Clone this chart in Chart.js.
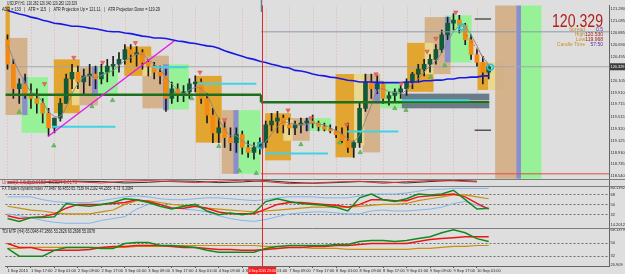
<!DOCTYPE html>
<html>
<head>
<meta charset="utf-8">
<title>USDJPY,H1</title>
<script src="https://cdn.jsdelivr.net/npm/chart.js@4.4.1/dist/chart.umd.min.js"></script>
<style>
  html, body { margin: 0; padding: 0; background: #dedede; overflow: hidden; }
  canvas { display: block; }
</style>
</head>
<body>
<canvas id="chart" width="625" height="274"></canvas>
<script>
// one label every 4 bars (bars are 2 hours wide)
const timeLabels = ["1 Sep 2015", "1 Sep 17:00", "2 Sep 01:00", "2 Sep 09:00", "2 Sep 17:00",
  "3 Sep 01:00", "3 Sep 09:00", "3 Sep 17:00", "4 Sep 01:00", "4 Sep 09:00", "4 Sep 17:00",
  "7 Sep 01:00", "7 Sep 09:00", "7 Sep 17:00", "8 Sep 01:00", "8 Sep 09:00", "8 Sep 17:00",
  "9 Sep 01:00", "9 Sep 09:00", "9 Sep 17:00", "10 Sep 01:00"];

const candleOpen = [120.77, 120.37, 119.97, 120.05, 119.89, 119.81, 119.73, 119.57, 119.33, 119.49,
  119.73, 120.13, 120.24, 120.08, 120.18, 120.21, 120.13, 120.24, 120.34, 120.37,
  120.45, 120.61, 120.53, 120.56, 120.40, 120.34, 120.24, 120.18, 119.81, 119.97,
  119.89, 119.92, 120.05, 120.08, 119.81, 119.54, 119.25, 119.33, 119.17, 119.09,
  119.22, 119.01, 118.93, 119.01, 119.09, 119.38, 119.44, 119.49, 119.38, 119.33,
  119.38, 119.41, 119.44, 119.41, 119.35, 119.31, 119.28, 119.22, 119.12, 119.01,
  119.09, 119.65, 120.08, 119.97, 120.05, 119.81, 119.86, 119.92, 119.97, 120.08,
  120.21, 120.29, 120.37, 120.45, 120.61, 120.85, 121.04, 121.09, 121.01, 120.77,
  120.53, 120.40, 120.24];
const candleHigh = [120.85, 120.45, 120.13, 120.21, 120.05, 119.97, 119.81, 119.65, 119.49, 119.81,
  120.21, 120.37, 120.34, 120.29, 120.37, 120.34, 120.37, 120.45, 120.50, 120.56,
  120.69, 120.69, 120.66, 120.61, 120.45, 120.40, 120.34, 120.29, 120.08, 120.05,
  120.02, 120.13, 120.18, 120.13, 119.89, 119.65, 119.49, 119.44, 119.33, 119.33,
  119.28, 119.12, 119.09, 119.17, 119.44, 119.57, 119.60, 119.54, 119.49, 119.44,
  119.49, 119.49, 119.54, 119.44, 119.41, 119.38, 119.35, 119.33, 119.41, 119.12,
  119.73, 120.21, 120.21, 120.18, 120.08, 119.92, 119.97, 120.02, 120.13, 120.24,
  120.37, 120.45, 120.53, 120.69, 120.93, 121.14, 121.20, 121.17, 121.04, 120.85,
  120.61, 120.50, 120.37];
const candleLow = [120.29, 119.81, 119.73, 119.81, 119.65, 119.57, 119.41, 119.20, 119.25, 119.44,
  119.73, 119.97, 119.97, 119.89, 120.02, 119.97, 120.05, 120.08, 120.18, 120.24,
  120.37, 120.40, 120.34, 120.29, 120.18, 120.13, 120.05, 119.60, 119.73, 119.76,
  119.76, 119.81, 119.92, 119.73, 119.41, 119.09, 119.09, 119.01, 118.96, 118.93,
  118.90, 118.85, 118.82, 118.90, 119.01, 119.28, 119.25, 119.25, 119.22, 119.22,
  119.25, 119.28, 119.33, 119.28, 119.28, 119.25, 119.17, 119.09, 118.93, 118.85,
  119.01, 119.60, 119.81, 119.89, 119.73, 119.70, 119.76, 119.81, 119.86, 119.97,
  120.08, 120.18, 120.24, 120.37, 120.56, 120.77, 120.93, 120.88, 120.69, 120.45,
  120.34, 120.05, 120.13];
const candleClose = [120.37, 119.97, 120.05, 119.89, 119.81, 119.73, 119.57, 119.33, 119.49, 119.73,
  120.13, 120.24, 120.08, 120.18, 120.21, 120.13, 120.24, 120.34, 120.37, 120.45,
  120.61, 120.53, 120.56, 120.40, 120.34, 120.24, 120.18, 119.81, 119.97, 119.89,
  119.92, 120.05, 120.08, 119.81, 119.54, 119.25, 119.33, 119.17, 119.09, 119.22,
  119.01, 118.93, 119.01, 119.09, 119.38, 119.44, 119.49, 119.38, 119.33, 119.38,
  119.41, 119.44, 119.41, 119.35, 119.31, 119.28, 119.22, 119.12, 119.01, 119.09,
  119.65, 120.08, 119.97, 120.05, 119.81, 119.86, 119.92, 119.97, 120.08, 120.21,
  120.29, 120.37, 120.45, 120.61, 120.85, 121.04, 121.09, 121.01, 120.77, 120.53,
  120.40, 120.24, 120.329];

const fastMa = [120.69, 120.45, 120.24, 120.07, 119.92, 119.87, 119.75, 119.60, 119.52, 119.52,
  119.67, 119.89, 120.05, 120.16, 120.18, 120.15, 120.19, 120.23, 120.27, 120.35,
  120.43, 120.48, 120.53, 120.53, 120.45, 120.37, 120.29, 120.15, 120.05, 119.95,
  119.89, 119.95, 119.99, 119.97, 119.87, 119.67, 119.47, 119.31, 119.20, 119.20,
  119.12, 119.06, 119.04, 119.01, 119.11, 119.23, 119.35, 119.43, 119.41, 119.39,
  119.38, 119.39, 119.41, 119.39, 119.38, 119.33, 119.28, 119.23, 119.15, 119.11,
  119.22, 119.46, 119.70, 119.94, 119.97, 119.92, 119.91, 119.89, 119.95, 120.05,
  120.13, 120.24, 120.34, 120.43, 120.56, 120.74, 120.90, 120.99, 120.98, 120.85,
  120.67, 120.48, 120.37];
const slowMa = [121.25, 121.22, 121.19, 121.17, 121.14, 121.12, 121.09, 121.07, 121.04, 121.03,
  121.01, 120.99, 120.99, 120.98, 120.96, 120.95, 120.93, 120.91, 120.90, 120.90,
  120.88, 120.87, 120.85, 120.83, 120.82, 120.80, 120.80, 120.79, 120.77, 120.75,
  120.74, 120.72, 120.71, 120.69, 120.67, 120.66, 120.63, 120.59, 120.56, 120.53,
  120.50, 120.47, 120.45, 120.42, 120.40, 120.37, 120.35, 120.32, 120.31, 120.27,
  120.26, 120.24, 120.21, 120.19, 120.18, 120.16, 120.15, 120.13, 120.11, 120.10,
  120.08, 120.08, 120.08, 120.07, 120.07, 120.07, 120.07, 120.07, 120.08, 120.08,
  120.08, 120.10, 120.10, 120.11, 120.11, 120.13, 120.13, 120.15, 120.15, 120.16,
  120.16, 120.18, 120.18];

// arrow and ring markers: bar position and price
const downSlots = [6.3, 11.3, 16.2, 21.8, 32.8, 37.0, 47.8, 51.7, 57.8, 62.8, 67.1, 71.5, 73.0, 76.4];
const downPrices = [120.05, 120.48, 120.40, 120.72, 120.24, 119.46, 119.62, 119.49, 119.38, 120.21, 120.05, 120.58, 120.79, 121.22];
const upSlots = [2.0, 7.9, 14.4, 17.9, 28.5, 31.4, 36.0, 39.5, 42.4, 50.0, 56.6, 60.1, 66.0, 67.9, 72.1, 74.5];
const upPrices = [119.59, 119.04, 119.68, 119.78, 119.89, 119.81, 119.03, 118.63, 118.59, 119.06, 119.09, 118.93, 119.65, 119.62, 120.16, 120.35];
const ringSlots = [43.2, 77.4, 82.3];
const ringPrices = [119.04, 120.98, 120.32];

// zones: kind, first bar, last bar, top price, bottom price
const zones = [
  ["gold", -0.4, 0.4, 121.33, 120.61], ["tan", -0.4, 3.4, 120.80, 119.54],
  ["green", 2.4, 6.9, 120.16, 119.25], ["purple", 2.5, 3.4, 120.16, 119.54],
  ["gold", 7.9, 12.3, 120.45, 119.57], ["pale", 11.0, 12.3, 120.32, 119.70],
  ["tan", 12.3, 15.4, 120.32, 119.70], ["purple", 14.4, 15.4, 120.34, 119.89],
  ["green", 15.4, 18.8, 120.34, 119.89], ["gold", 19.9, 24.5, 120.66, 120.18],
  ["tan", 23.0, 27.5, 120.51, 119.65], ["pale", 23.0, 24.5, 120.37, 120.18],
  ["purple", 26.5, 27.5, 120.37, 119.62], ["green", 27.5, 30.9, 120.37, 119.63],
  ["gold", 32.1, 36.5, 120.18, 119.09], ["tan", 36.5, 39.4, 119.62, 118.58],
  ["purple", 38.5, 39.4, 119.62, 118.58], ["green", 39.4, 43.1, 119.62, 118.58],
  ["gold", 43.9, 48.3, 119.57, 118.80], ["tan", 48.3, 51.5, 119.49, 119.12],
  ["pale", 47.0, 48.6, 119.46, 119.12], ["purple", 50.7, 51.5, 119.49, 119.28],
  ["green", 51.5, 55.1, 119.49, 119.28], ["gold", 55.9, 59.1, 120.21, 118.85],
  ["tan", 60.5, 63.5, 120.21, 118.93], ["pale", 59.1, 60.8, 120.21, 119.04],
  ["purple", 62.5, 63.9, 120.10, 119.73], ["green", 63.5, 67.2, 120.08, 119.65],
  ["gold", 68.1, 72.6, 120.72, 119.92], ["tan", 71.1, 75.5, 121.14, 120.21],
  ["pale", 71.1, 72.6, 120.72, 120.21], ["green", 74.5, 79.1, 121.17, 120.40],
  ["purple", 74.5, 75.5, 121.14, 120.40], ["gold", 80.1, 81.9, 120.40, 119.95],
  ["pale", 81.9, 84.6, 120.40, 119.95], ["slate", 67.2, 82.1, 119.89, 119.78],
  ["slate", 67.2, 82.1, 119.73, 119.65], ["tan", 83.1, 86.7, 122, 118],
  ["purple", 86.7, 87.5, 122, 118], ["green", 87.5, 91.0, 122, 118]
];

// lines on the price pane: kind, from bar, to bar, price from, price to
const levels = [
  ["bid", -0.4, 103, 120.329, 120.329],
  ["grey", 43.2, 103, 120.90, 120.90],
  ["red", 43.2, 103, 118.58, 118.58],
  ["support", -0.4, 43.2, 119.87, 119.87],
  ["support", 43.2, 43.2, 119.87, 119.75],
  ["support", 43.2, 82.1, 119.75, 119.75],
  ["cyan", 7.6, 18.4, 119.35, 119.35],
  ["cyan", 24.7, 30.6, 120.32, 120.32],
  ["cyan", 32.3, 42.4, 120.05, 120.05],
  ["cyan", 43.9, 54.6, 118.91, 118.91],
  ["cyan", 57.9, 66.6, 119.27, 119.27],
  ["cyan", 67.2, 78.7, 119.78, 119.78],
  ["trend", 6.9, 28.4, 119.19, 120.75],
  ["atr", 79.6, 82.4, 121.11, 121.11],
  ["atr", 79.6, 82.4, 119.29, 119.29],
  ["dots", 78.2, 81.6, 120.85, 120.42]
];
const crossSlot = 43.4;

const mainTicks = [121.280, 121.085, 120.885, 120.690, 120.495, 120.105, 119.910,
  119.715, 119.515, 119.320, 119.125, 118.930, 118.735, 118.540];
const lastPrice = 120.329;

// Unveil pane, one value every 4 bars
const unveilRed = [0.2, -0.3, 0.4, 0.1, -0.2, 0.3, 0.5, 0.2, -0.1, 0.3, 0.6, 0.2, -0.4, -0.2, 0.1, 0.3, -0.3, 0.2, 0.5, 0.4, 0.1];
const unveilDark = [-0.2, 0.1, -0.1, 0.3, 0.2, -0.2, 0.0, 0.4, 0.3, -0.1, 0.1, 0.5, 0.0, -0.3, -0.1, 0.2, 0.1, -0.2, 0.2, 0.6, 0.3];

// dynamic index pane, one value every 2 bars
const tdiGreen = [25.4, 20.3, 27.1, 27.1, 28.8, 52.7, 49.3, 47.6, 51.0, 54.4,
  61.2, 59.5, 54.4, 47.6, 42.5, 47.6, 51.0, 39.1, 32.2, 35.6,
  32.2, 35.6, 56.1, 61.2, 56.1, 52.7, 51.0, 49.3, 45.9, 39.1,
  62.9, 69.8, 59.5, 56.1, 61.2, 69.8, 68.1, 69.8, 76.6, 59.5, 42.5, 44.2];
const tdiRed = [30.5, 25.4, 27.1, 28.8, 33.9, 44.2, 51.0, 51.0, 51.0, 52.7,
  54.4, 59.5, 56.1, 51.0, 44.2, 44.2, 47.6, 44.2, 37.4, 33.9,
  33.9, 33.9, 42.5, 51.0, 54.4, 54.4, 52.7, 51.0, 49.3, 45.9,
  51.0, 59.5, 59.5, 57.8, 57.8, 64.6, 66.4, 68.1, 69.8, 64.6, 52.7, 42.5];
const tdiBase = [47.6, 44.2, 40.8, 39.1, 35.6, 33.9, 33.9, 33.9, 37.4, 40.8,
  51.0, 57.8, 57.8, 54.4, 51.0, 49.3, 47.6, 44.2, 42.5, 40.8,
  39.1, 37.4, 39.1, 40.8, 42.5, 44.2, 45.9, 45.9, 45.9, 45.9,
  47.6, 49.3, 51.0, 51.0, 52.7, 57.8, 61.2, 64.6, 68.1, 68.1, 64.6, 61.2];
const tdiUpper = [64.6, 64.6, 64.6, 59.5, 56.1, 54.4, 54.4, 54.4, 57.8, 61.2,
  64.6, 66.4, 64.6, 61.2, 59.5, 59.5, 61.2, 62.9, 62.9, 61.2,
  59.5, 57.8, 59.5, 62.9, 64.6, 64.6, 64.6, 62.9, 62.9, 62.9,
  66.4, 69.8, 69.8, 69.8, 71.5, 74.9, 78.3, 78.3, 80.0, 80.0, 80.0, 80.0];
const tdiLower = [33.9, 30.5, 27.1, 22.0, 18.6, 16.9, 16.9, 16.9, 22.0, 25.4,
  28.8, 42.5, 51.0, 51.0, 45.9, 42.5, 40.8, 37.4, 30.5, 25.4,
  22.0, 20.3, 23.7, 28.8, 33.9, 35.6, 37.4, 37.4, 35.6, 33.9,
  33.9, 39.1, 40.8, 39.1, 39.1, 40.8, 42.5, 45.9, 52.7, 56.1, 49.3, 44.2];
const tdiLevels = [80.1392, 68, 50, 32, 14.2012];

// TDI MTF (H4) pane, one value every 2 bars
const mtfGreen = [43.0, 32.2, 32.2, 32.2, 40.3, 44.3, 44.3, 44.3, 43.0, 43.0,
  49.7, 51.1, 51.1, 47.0, 47.0, 45.7, 44.3, 40.3, 37.6, 37.6,
  37.6, 37.6, 43.0, 45.7, 47.0, 47.0, 47.0, 47.0, 48.4, 48.4,
  52.4, 53.8, 53.8, 52.4, 53.8, 56.5, 59.2, 64.6, 68.6, 64.6, 56.5, 52.4];
const mtfRed = [49.7, 44.3, 44.3, 40.3, 40.3, 40.3, 40.3, 41.6, 44.3, 45.7,
  45.7, 47.0, 47.0, 47.0, 45.7, 44.3, 44.3, 43.0, 41.6, 41.6,
  40.3, 40.3, 41.6, 43.0, 44.3, 44.3, 45.7, 45.7, 47.0, 47.0,
  48.4, 49.7, 49.7, 49.7, 49.7, 52.4, 55.1, 56.5, 57.8, 59.2, 59.2, 59.2];
const mtfBase = [43.0, 43.0, 44.3, 44.3, 44.3, 44.3, 44.3, 44.3, 44.3, 44.3,
  44.3, 45.7, 45.7, 45.7, 47.0, 47.0, 47.0, 47.0, 47.0, 47.0,
  47.0, 47.0, 45.7, 45.7, 44.3, 44.3, 43.0, 43.0, 43.0, 41.6,
  41.6, 41.6, 41.6, 41.6, 41.6, 43.0, 43.0, 44.3, 45.7, 45.7, 47.0, 47.0];
const mtfLevels = [68.1379, 50, 32, 20.909];

const headerLine = "USDJPY,H1  120.282 120.340 120.282 120.329";
const atrLine = "ADR = 133   |   ATR = 115   |   ATR Projection Up = 121.11   |   ATR Projection Down = 119.29";
const unveilTitle = "Unveil(3,3,5,3) 0.0152 -0.0024 0.0176";
const tdiTitle = "FX Traders dynamic index 77.9487 66.4853 65.7539 64.2192 44.2383  4.73  6.2084";
const mtfTitle = "TDI MTF (H4) 65.0948 47.2866 53.2626 60.2698 55.0978";
const infoRows = [["Spread", "0.5"], ["High", "120.530"], ["Low", "119.968"], ["Candle Time", "57:50"]];

const FONT = '"Liberation Sans Narrow", "Liberation Sans", Arial, sans-serif';
Chart.defaults.font.family = FONT;
Chart.defaults.font.size = 4;
Chart.defaults.color = "#2b2b2b";

const zoneColors = {
  gold: "rgba(225,160,34,0.93)", tan: "rgba(210,175,135,0.95)", pale: "rgba(233,215,142,0.96)",
  purple: "#8b8dcc", green: "#97f297", slate: "#6b7b8a"
};
const levelStyles = {
  bid: { color: "#a6a6a6", width: 1 },
  grey: { color: "#8d99ab", width: 1 },
  red: { color: "#e34b4b", width: 1 },
  support: { color: "#1f6f1f", width: 2.5 },
  cyan: { color: "#3fd3e3", width: 2 },
  trend: { color: "#e31ee3", width: 1.5 },
  atr: { color: "#555555", width: 1.5 },
  dots: { color: "#e05050", width: 1, dash: [2, 2] }
};

const pts = (arr, step) => arr.map((v, i) => ({ x: i * step, y: v }));
const bars = candleClose.map((_, i) => i);

function drawLevels(ctx, x, y, onlyBid) {
  levels.forEach(([kind, s0, s1, p0, p1]) => {
    if ((kind === "bid") !== onlyBid) return;
    const st = levelStyles[kind];
    ctx.strokeStyle = st.color;
    ctx.lineWidth = st.width;
    ctx.setLineDash(st.dash || []);
    ctx.beginPath();
    ctx.moveTo(x.getPixelForValue(s0), y.getPixelForValue(p0));
    ctx.lineTo(x.getPixelForValue(s1), y.getPixelForValue(p1));
    ctx.stroke();
  });
  ctx.setLineDash([]);
}

function clipPane(ctx, area, scale) {
  ctx.beginPath();
  ctx.rect(area.left, scale.top, area.right - area.left, scale.bottom - scale.top);
  ctx.clip();
}

const overlay = {
  id: "overlay",
  beforeDraw(chart) {
    const { ctx, width, height } = chart;
    ctx.save();
    ctx.fillStyle = "#dedede";
    ctx.fillRect(0, 0, width, height);
    ctx.restore();
  },
  beforeDatasetsDraw(chart) {
    const { ctx, chartArea: area, scales: { x, y } } = chart;
    ctx.save();
    clipPane(ctx, area, y);
    // period separators
    ctx.strokeStyle = "rgba(232,150,128,0.6)";
    ctx.lineWidth = 1;
    ctx.setLineDash([1, 2]);
    timeLabels.forEach((_, k) => {
      const px = Math.round(x.getPixelForValue(k * 4)) + 0.5;
      ctx.beginPath();
      ctx.moveTo(px, y.top);
      ctx.lineTo(px, y.bottom);
      ctx.stroke();
    });
    ctx.setLineDash([]);
    zones.forEach(([kind, s0, s1, hi, lo]) => {
      const x0 = x.getPixelForValue(s0), x1 = x.getPixelForValue(s1);
      const y0 = y.getPixelForValue(hi), y1 = y.getPixelForValue(lo);
      ctx.fillStyle = zoneColors[kind];
      ctx.fillRect(x0, y0, x1 - x0, y1 - y0);
    });
    drawLevels(ctx, x, y, true);
    ctx.restore();
  },
  afterDatasetsDraw(chart) {
    const { ctx, chartArea: area, scales: { x, y, yA, yB, yC } } = chart;
    ctx.save();
    clipPane(ctx, area, y);
    drawLevels(ctx, x, y, false);
    ctx.restore();

    ctx.save();
    // pane separators
    ctx.strokeStyle = "#7d7d7d";
    ctx.lineWidth = 1;
    [y.bottom, yA.bottom, yB.bottom].forEach(b => {
      const py = Math.round(b) + 0.5;
      ctx.beginPath();
      ctx.moveTo(0, py);
      ctx.lineTo(chart.width, py);
      ctx.stroke();
    });
    // crosshair
    const cx = Math.round(x.getPixelForValue(crossSlot)) + 0.5;
    ctx.strokeStyle = "#e52626";
    ctx.beginPath();
    ctx.moveTo(cx, area.top);
    ctx.lineTo(cx, area.bottom);
    ctx.stroke();
    ctx.strokeStyle = "#6c7c90";
    ctx.lineWidth = 1.5;
    ctx.beginPath();
    ctx.moveTo(cx - 1, 0);
    ctx.lineTo(cx - 1, 12);
    ctx.stroke();

    // titles
    ctx.textBaseline = "middle";
    ctx.textAlign = "left";
    ctx.font = "5px " + FONT;
    ctx.fillStyle = "#1a1a1a";
    ctx.fillText(headerLine, 7, 4, 70);
    ctx.fillText(atrLine, 2, 9.5, 158);
    ctx.fillText(tdiTitle, 2, yB.top + 2.5, 131);
    ctx.fillText(mtfTitle, 2, yC.top + 3.5, 93);
    ctx.fillStyle = "#c03030";
    ctx.fillText(unveilTitle, 2, yA.top + 3.5, 75);

    // info block
    ctx.textAlign = "right";
    ctx.textBaseline = "alphabetic";
    ctx.font = "19px " + FONT;
    const big = lastPrice.toFixed(3);
    const w = ctx.measureText(big).width;
    ctx.save();
    ctx.translate(603, 27);
    ctx.scale(51 / w, 1);
    ctx.fillStyle = "#b31d1d";
    ctx.fillText(big, 0, 0);
    ctx.restore();
    ctx.textBaseline = "middle";
    ctx.font = "5px " + FONT;
    const valueColors = ["#5a2aa0", "#a32020", "#a32020", "#5a2aa0"];
    infoRows.forEach(([label, value], k) => {
      const py = 29.5 + k * 5.2;
      ctx.fillStyle = "#c4912c";
      ctx.fillText(label, 585, py);
      ctx.fillStyle = valueColors[k];
      ctx.fillText(value, 603, py);
    });
    ctx.restore();
  },
  afterDraw(chart) {
    const { ctx, chartArea: area, scales: { x, y } } = chart;
    ctx.save();
    // current price tag
    const py = y.getPixelForValue(lastPrice);
    ctx.fillStyle = "#3c3c3c";
    ctx.fillRect(area.right + 1, py - 3.5, 15, 7);
    ctx.fillStyle = "#ffffff";
    ctx.font = "4px " + FONT;
    ctx.textAlign = "left";
    ctx.textBaseline = "middle";
    ctx.fillText(lastPrice.toFixed(3), area.right + 1.5, py, 14);
    // crosshair time tag
    const cx = x.getPixelForValue(crossSlot);
    ctx.fillStyle = "#ff1c1c";
    ctx.fillRect(cx - 14, area.bottom + 1, 28, 7);
    ctx.fillStyle = "#ffffff";
    ctx.textAlign = "center";
    ctx.fillText("4 Sep 2015 23:00", cx, area.bottom + 4.5, 27);
    ctx.restore();
  }
};

const levelGrid = lv => c => (c.tick && lv.includes(c.tick.value) ? "#6d6d6d" : "rgba(0,0,0,0)");
const fixWidth = s => { s.width = 16; };

const ctx = document.getElementById("chart").getContext("2d");
const lineSet = (data, axis, color, width, order) => ({
  type: "line", data, yAxisID: axis, borderColor: color, borderWidth: width,
  pointRadius: 0, fill: false, order
});

new Chart(ctx, {
  type: "bar",
  data: {
    datasets: [
      {
        type: "bar", data: bars.map(i => ({ x: i, y: [candleLow[i], candleHigh[i]] })),
        yAxisID: "y", backgroundColor: "#1b1b1b", barThickness: 1, grouped: false, order: 6
      },
      {
        type: "bar", data: bars.map(i => ({ x: i, y: [candleOpen[i], candleClose[i]] })),
        yAxisID: "y", backgroundColor: bars.map(i => (candleClose[i] >= candleOpen[i] ? "#14583a" : "#f3890f")),
        barThickness: 4, minBarLength: 1, grouped: false, order: 5
      },
      { ...lineSet(pts(fastMa, 1), "y", "#8a8a8a", 1, 4), tension: 0.3 },
      lineSet(pts(slowMa, 1), "y", "#1818e6", 1.6, 3),
      {
        type: "line", showLine: false, yAxisID: "y", order: 1,
        data: downSlots.map((s, k) => ({ x: s, y: downPrices[k] })),
        pointStyle: "triangle", rotation: 180, pointRadius: 2.5,
        pointBackgroundColor: "#f26b5b", pointBorderColor: "#d04040", pointBorderWidth: 0.5
      },
      {
        type: "line", showLine: false, yAxisID: "y", order: 1,
        data: upSlots.map((s, k) => ({ x: s, y: upPrices[k] })),
        pointStyle: "triangle", pointRadius: 2.5,
        pointBackgroundColor: "#63c463", pointBorderColor: "#3c9a3c", pointBorderWidth: 0.5
      },
      {
        type: "line", showLine: false, yAxisID: "y", order: 1,
        data: ringSlots.map((s, k) => ({ x: s, y: ringPrices[k] })),
        pointStyle: "circle", pointRadius: 3,
        pointBackgroundColor: "rgba(0,0,0,0)", pointBorderColor: "#22c6e6", pointBorderWidth: 1.5
      },
      lineSet(pts(unveilDark, 4), "yA", "#333333", 1, 2),
      lineSet(pts(unveilRed, 4), "yA", "#e03030", 1, 1),
      lineSet(pts(tdiUpper, 2), "yB", "#80b6ee", 1, 2),
      lineSet(pts(tdiLower, 2), "yB", "#80b6ee", 1, 2),
      lineSet(pts(tdiBase, 2), "yB", "#c8900f", 1.2, 2),
      lineSet(pts(tdiRed, 2), "yB", "#f01515", 1.5, 1),
      lineSet(pts(tdiGreen, 2), "yB", "#14881e", 1.5, 0),
      lineSet(pts(mtfBase, 2), "yC", "#c8900f", 1.2, 2),
      lineSet(pts(mtfRed, 2), "yC", "#f01515", 1.5, 1),
      lineSet(pts(mtfGreen, 2), "yC", "#14881e", 1.5, 0)
    ]
  },
  options: {
    responsive: false,
    devicePixelRatio: 1,
    animation: false,
    events: [],
    layout: { padding: 0 },
    plugins: { legend: { display: false }, tooltip: { enabled: false } },
    scales: {
      x: {
        type: "linear", position: "bottom", min: -0.34, max: 102.5, offset: false,
        afterFit: s => { s.height = 8; },
        afterBuildTicks: s => { s.ticks = timeLabels.map((_, k) => ({ value: k * 4 })); },
        ticks: {
          callback: (v, i) => timeLabels[i], align: "start", autoSkip: false,
          maxRotation: 0, minRotation: 0, padding: 0.5
        },
        grid: { offset: false, drawOnChartArea: false, tickLength: 2, tickColor: "#555" },
        border: { color: "#666" }
      },
      y: {
        type: "linear", position: "right", stack: "pane", stackWeight: 177,
        min: 118.498, max: 121.33, beginAtZero: false, afterFit: fixWidth,
        afterBuildTicks: s => { s.ticks = mainTicks.map(v => ({ value: v })); },
        ticks: { callback: v => v.toFixed(3), padding: 0.5, autoSkip: false },
        grid: { drawOnChartArea: false, tickLength: 1, tickColor: "#555" },
        border: { color: "#666" }
      },
      yA: {
        type: "linear", position: "right", stack: "pane", stackWeight: 7,
        min: -1, max: 1, beginAtZero: false, afterFit: fixWidth,
        afterBuildTicks: s => { s.ticks = []; },
        ticks: { display: false },
        grid: { display: false },
        border: { color: "#666" }
      },
      yB: {
        type: "linear", position: "right", stack: "pane", stackWeight: 43,
        min: 8.7, max: 84.8, beginAtZero: false, afterFit: fixWidth,
        afterBuildTicks: s => { s.ticks = tdiLevels.map(v => ({ value: v })); },
        ticks: { callback: v => String(v), padding: 0.5, autoSkip: false },
        grid: { color: levelGrid([68, 50, 32]), tickColor: "#555", tickLength: 1 },
        border: { color: "#666", dash: [2, 2] }
      },
      yC: {
        type: "linear", position: "right", stack: "pane", stackWeight: 39,
        min: 18.7, max: 71.4, beginAtZero: false, afterFit: fixWidth,
        afterBuildTicks: s => { s.ticks = mtfLevels.map(v => ({ value: v })); },
        ticks: { callback: v => String(v), padding: 0.5, autoSkip: false },
        grid: { color: levelGrid([50, 32]), tickColor: "#555", tickLength: 1 },
        border: { color: "#666", dash: [2, 2] }
      }
    }
  },
  plugins: [overlay]
});
</script>
</body>
</html>
